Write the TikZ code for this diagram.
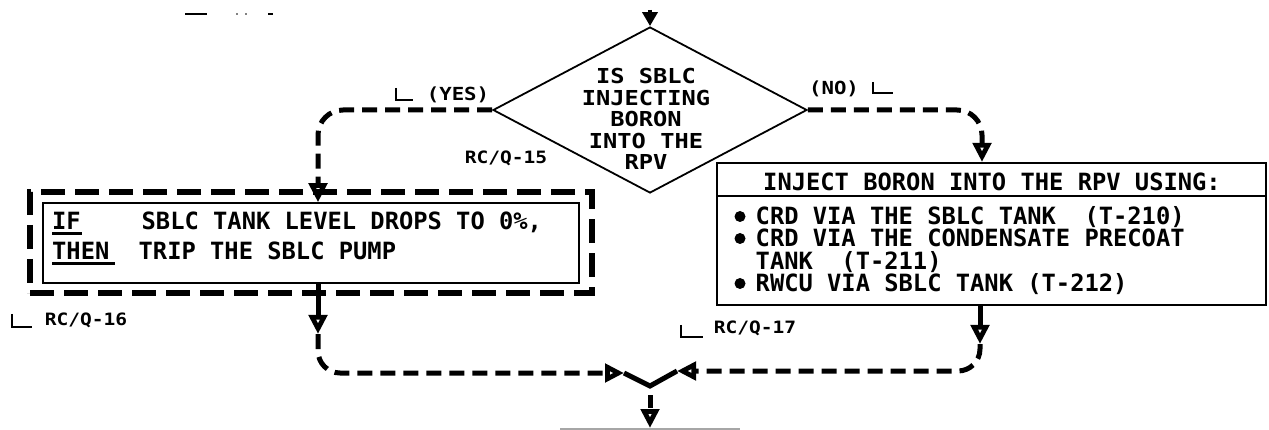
\documentclass[tikz,border=0pt]{standalone}
\usepackage{fontspec}
\newfontfamily\plotfont{DejaVu Sans Mono}
\newfontfamily\diafont{DejaVu Sans Mono}[FakeStretch=1.15]
\usetikzlibrary{arrows.meta,shapes.geometric}
\begin{document}
\begin{tikzpicture}[x=1pt,y=-1pt,
  flow/.style={line width=5pt, dash pattern=on 15pt off 8pt},
  solidflow/.style={line width=5pt},
  otip/.style={-{Triangle[open,length=19pt,width=18pt,line width=5pt]}},
  boxtxt/.style={font=\plotfont\bfseries\fontsize{23.75}{28}\selectfont, inner sep=0, anchor=base west},
  diatxt/.style={font=\diafont\bfseries\fontsize{20.6}{21.4}\selectfont, inner sep=0, align=center},
  lab/.style={font=\diafont\bfseries\fontsize{18}{20}\selectfont, inner sep=0},
  rclab/.style={font=\diafont\bfseries\fontsize{17}{20}\selectfont, inner sep=0},
  lmark/.style={line width=2pt},
  uline/.style={line width=2.5pt}
]
\useasboundingbox (0,0) rectangle (1269,430);
\fill[white] (0,0) rectangle (1269,430);

% stray marks at top left
\draw[line width=2pt] (185,14) -- (207,14);
\fill (237,14) circle (0.8);
\fill (246,14) circle (0.8);
\fill (268,13.3) rectangle (273,14.7);

% decision
\node[diamond, draw, line width=1.8pt, minimum width=314, minimum height=166, inner sep=0] (dec) at (650,110) {};
\node[diatxt] (dectext) at (646,119) {IS SBLC\\INJECTING\\BORON\\INTO THE\\RPV};
\coordinate (topin) at (650,10);
\draw[line width=4pt, -{Triangle[length=14pt,width=15pt]}] (topin) -- (dec.north);

% left IF box
\node[draw, line width=6pt, dash pattern=on 24pt off 10pt, minimum width=562, minimum height=101, inner sep=0] (ifframe) at (311,242.5) {};
\node[draw, line width=1.5pt, minimum width=536, minimum height=80, inner sep=0] (ifbox) at (311,243) {};
\node[boxtxt] (if) at (52,230) {IF};
\node[boxtxt] (ift) at (141.5,230) {SBLC TANK LEVEL DROPS TO 0\%,};
\node[boxtxt] (then) at (52,260) {THEN};
\node[boxtxt] (thent) at (138.5,260) {TRIP THE SBLC PUMP};
\draw[uline] ([yshift=-3.5pt]if.base west) -- ([yshift=-3.5pt,xshift=1pt]if.base east);
\draw[uline] ([yshift=-3.5pt]then.base west) -- ([yshift=-3.5pt,xshift=5pt]then.base east);

% right box
\node[draw, line width=2pt, minimum width=549, minimum height=142, inner sep=0] (rbox) at (991.5,234) {};
\draw[line width=2pt] (rbox.west |- 0,196) -- (rbox.east |- 0,196);
\node[boxtxt, anchor=center] (rtitle) at (992,181.5) {INJECT BORON INTO THE RPV USING:};
\node[boxtxt] (r1) at (755.5,225) {CRD VIA THE SBLC TANK~~(T-210)};
\node[boxtxt] (r2) at (755.5,247) {CRD VIA THE CONDENSATE PRECOAT};
\node[boxtxt] (r3) at (755.5,269.5) {TANK~~(T-211)};
\node[boxtxt] (r4) at (755.5,292) {RWCU VIA SBLC TANK (T-212)};
\fill (740,216.5) circle (5.5);
\fill (740,238.5) circle (5.5);
\fill (740,283.5) circle (5.5);

% bottom box (cut off)
\node[draw=gray!70, line width=1.5pt, minimum width=178, minimum height=60, anchor=north west, inner sep=0] (botbox) at (560,428) {};

% labels
\draw[lmark] (396,88) -- (396,100) -- (413,100);
\node[lab] (yes) at (458,95) {(YES)};
\node[lab] (no) at (834,89) {(NO)};
\draw[lmark] (873,82) -- (873,93) -- (893,93);
\node[rclab] (rc15) at (506,158) {RC/Q-15};
\draw[lmark] (12,314) -- (12,327) -- (32,327);
\node[rclab] (rc16) at (86,320) {RC/Q-16};
\draw[lmark] (681,325) -- (681,337) -- (703,337);
\node[rclab] (rc17) at (755,328) {RC/Q-17};

% connectors
\draw[flow, otip, rounded corners=25pt] (dec.west) -- (318,110) -- (318,0 |- ifbox.north);
\draw[flow, otip, rounded corners=25pt] (dec.east) -- (982,110) -- (982,0 |- rbox.north);

\coordinate (la) at (318,334);
\coordinate (ra) at (980,344);
\coordinate (ml) at (624,373);
\coordinate (mr) at (677,371);
\coordinate (mv) at (650,386);
\draw[solidflow, otip] (318,0 |- ifbox.south) -- (la);
\draw[flow, otip, rounded corners=22pt] (la) -- (318,373) -- (ml);
\draw[solidflow, otip] (980,0 |- rbox.south) -- (ra);
\draw[flow, otip, rounded corners=22pt] (ra) -- (980,371) -- (mr);
\draw[solidflow] (ml) -- (mv) -- (mr);
\draw[line width=5pt, dash pattern=on 0pt off 9pt on 13pt off 40pt, otip] (mv) -- (650,0 |- botbox.north);
\end{tikzpicture}
\end{document}
